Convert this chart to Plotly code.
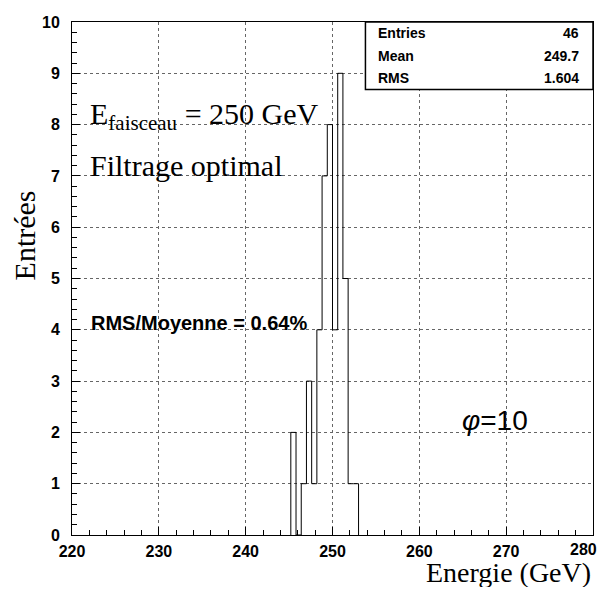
import plotly.graph_objects as go

# ---- data ----
bin_width = 0.6
bin_left = [245.2, 245.8, 246.4, 247.0, 247.6, 248.2, 248.8,
            249.4, 250.0, 250.6, 251.2, 251.8, 252.4]
counts = [2, 0, 1, 3, 1, 4, 7, 8, 4, 9, 5, 1, 1]

x_ticks = [220, 230, 240, 250, 260, 270, 280]
y_ticks = list(range(0, 11))

stats_labels = ["Entries", "Mean", "RMS"]
stats_values = ["46", "249.7", "1.604"]

# ---- build step outline (ROOT style histogram) ----
xs = [bin_left[0]]
ys = [0]
for xl, c in zip(bin_left, counts):
    xs += [xl, xl + bin_width]
    ys += [c, c]
xs.append(bin_left[-1] + bin_width)
ys.append(0)

fig = go.Figure()
fig.add_trace(go.Scatter(x=xs, y=ys, mode="lines",
                         line=dict(color="black", width=1),
                         hoverinfo="skip", showlegend=False))

# page body has an 8px margin on every side: figure fits inside it
OFF = 8
W, H = 608 - 2 * OFF, 595 - 2 * OFF
PL, PR, PT, PB = 72, 594, 18, 535          # plot area in page pixels
L, T = PL - OFF, PT - OFF
R = W - (PR - OFF)
B = H - (PB - OFF)

tickfont = dict(family="Liberation Sans, Arial, sans-serif", size=16,
                color="black", weight="bold")

# last x label would be cut at the figure edge: drawn as an annotation instead
x_ticktext = [str(v) for v in x_ticks[:-1]] + [""]

fig.update_layout(
    width=W, height=H,
    margin=dict(l=L, r=R, t=T, b=B),
    plot_bgcolor="white", paper_bgcolor="white",
    showlegend=False,
)
fig.update_xaxes(
    range=[220, 280], tickvals=x_ticks, ticktext=x_ticktext,
    ticks="inside", ticklen=8, tickwidth=1, tickcolor="black",
    minor=dict(dtick=2, ticks="inside", ticklen=5, tickcolor="black", showgrid=False),
    showgrid=True, gridcolor="#666", griddash="dot", gridwidth=1,
    showline=True, linecolor="black", linewidth=1, mirror=True,
    zeroline=False, tickfont=tickfont, ticklabelstandoff=2,
)
fig.update_yaxes(
    range=[0, 10], tickvals=y_ticks, ticktext=[str(v) for v in y_ticks],
    ticks="inside", ticklen=8, tickwidth=1, tickcolor="black",
    minor=dict(dtick=0.2, ticks="inside", ticklen=5, tickcolor="black", showgrid=False),
    showgrid=True, gridcolor="#666", griddash="dot", gridwidth=1,
    showline=True, linecolor="black", linewidth=1, mirror=True,
    zeroline=False, tickfont=tickfont, ticklabelstandoff=8,
)

pw = PR - PL
ph = PB - PT

def px2paper(px, py):
    """page pixel -> paper coords"""
    return (px - PL) / pw, (PB - py) / ph

# last tick label, kept inside the figure edge
lx, ly = px2paper(600, 550)
fig.add_annotation(xref="paper", yref="paper", x=lx, y=ly, text=str(x_ticks[-1]),
                   showarrow=False, xanchor="right", yanchor="middle",
                   font=tickfont)

# ---- stats box ----
x0, y0 = px2paper(366, 86)
x1, y1 = px2paper(594, 18)
fig.add_shape(type="rect", xref="paper", yref="paper",
              x0=x0, y0=y0, x1=x1, y1=y1,
              line=dict(color="black", width=1.5), fillcolor="white", layer="above")

statfont = dict(family="Liberation Sans, Arial, sans-serif", size=14,
                color="black", weight="bold")
row_y = [29, 52, 74]
for lab, val, ry in zip(stats_labels, stats_values, row_y):
    lx, ly = px2paper(377, ry)
    rx, _ = px2paper(582, ry)
    fig.add_annotation(xref="paper", yref="paper", x=lx, y=ly, text=lab,
                       showarrow=False, xanchor="left", yanchor="middle", font=statfont)
    fig.add_annotation(xref="paper", yref="paper", x=rx, y=ly, text=val,
                       showarrow=False, xanchor="right", yanchor="middle", font=statfont)

# ---- text annotations ----
times = "Liberation Serif, Times New Roman, serif"
tx, ty = px2paper(88, 113)
fig.add_annotation(xref="paper", yref="paper", x=tx, y=ty,
                   text="E<sub>faisceau</sub> = 250 GeV", showarrow=False,
                   xanchor="left", yanchor="middle",
                   font=dict(family=times, size=30, color="black"))
tx, ty = px2paper(88, 163)
fig.add_annotation(xref="paper", yref="paper", x=tx, y=ty,
                   text="Filtrage optimal", showarrow=False,
                   xanchor="left", yanchor="middle",
                   font=dict(family=times, size=30, color="black"))
tx, ty = px2paper(89, 321)
fig.add_annotation(xref="paper", yref="paper", x=tx, y=ty,
                   text="RMS/Moyenne = 0.64%", showarrow=False,
                   xanchor="left", yanchor="middle",
                   font=dict(family="Liberation Sans, Arial, sans-serif", size=20,
                             color="black", weight="bold"))
tx, ty = px2paper(461, 420)
fig.add_annotation(xref="paper", yref="paper", x=tx, y=ty,
                   text="<i>φ</i>=10", showarrow=False,
                   xanchor="left", yanchor="middle",
                   font=dict(family="Liberation Sans, Arial, sans-serif", size=28,
                             color="black"))

# axis titles
tx, ty = px2paper(594, 573)
fig.add_annotation(xref="paper", yref="paper", x=tx, y=ty,
                   text="Energie (GeV)", showarrow=False,
                   xanchor="right", yanchor="middle",
                   font=dict(family=times, size=28, color="black"))
tx, ty = px2paper(24, 233)
fig.add_annotation(xref="paper", yref="paper", x=tx, y=ty,
                   text="Entrées", showarrow=False, textangle=-90,
                   xanchor="center", yanchor="middle",
                   font=dict(family=times, size=30, color="black"))

fig.write_html("out.html", config={"displayModeBar": False})
